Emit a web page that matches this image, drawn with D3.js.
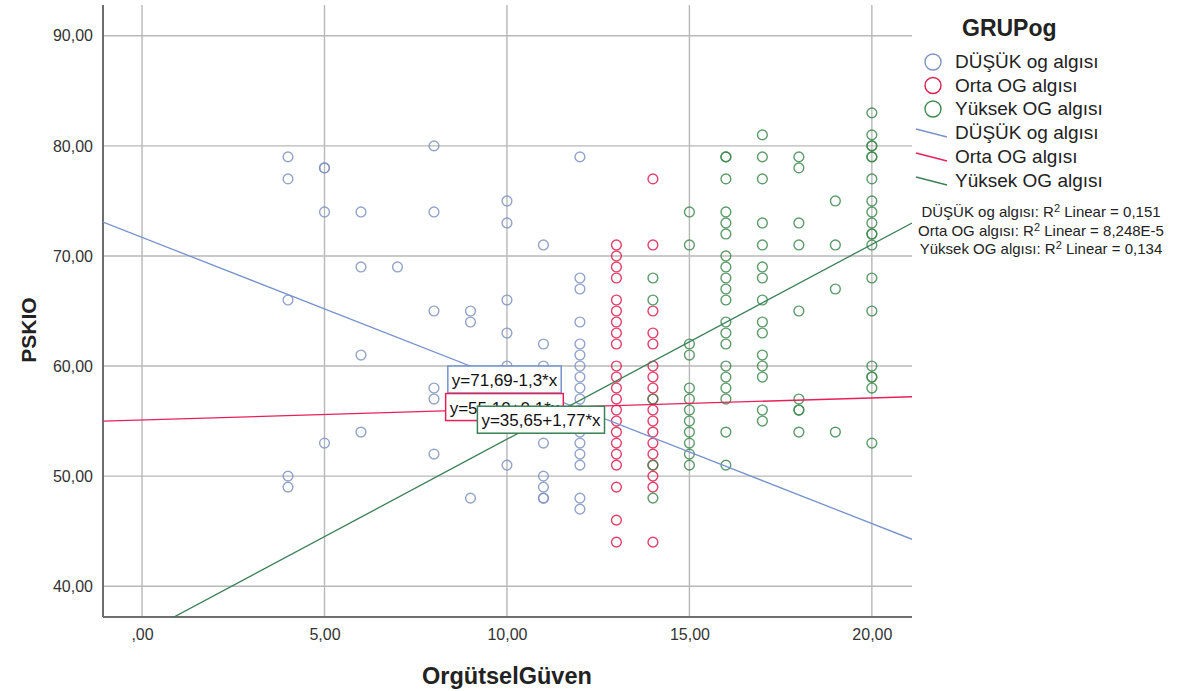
<html>
<head>
<meta charset="utf-8">
<script src="https://d3js.org/d3.v7.min.js"></script>
<style>
  body {margin:0; background:#fff; font-family:"Liberation Sans", Arial, sans-serif;}
</style>
</head>
<body>
<script>
// groups and colours
var groups = ["DÜŞÜK og algısı", "Orta OG algısı", "Yüksek OG algısı"]
var pointCol = ["#7f93c2", "#dc1f4f", "#3f8a4f"]
var lineCol = ["#7592cc", "#e8205a", "#3d7f57"]

// DÜŞÜK og algısı : x columns and the PSKIO values seen in each
var dusukX = [4, 5, 6, 7, 8, 9, 10, 11, 12]
var dusukY = [
  [79, 77, 66, 50, 49],
  [78, 78, 74, 53],
  [74, 69, 61, 54],
  [69],
  [80, 74, 65, 58, 57, 52],
  [65, 64, 48],
  [75, 73, 66, 63, 60, 59, 57, 51],
  [71, 62, 60, 59, 58, 57, 55, 53, 50, 49, 48, 48],
  [79, 68, 67, 64, 62, 61, 60, 59, 58, 57, 56, 55, 54, 53, 52, 51, 48, 47]
]

// Orta OG algısı
var ortaX = [13, 14]
var ortaY = [
  [71, 70, 69, 68, 66, 65, 64, 63, 62, 60, 59, 58, 57, 56, 55, 54, 53, 52, 51, 49, 46, 44],
  [77, 71, 65, 63, 62, 60, 59, 58, 57, 56, 55, 54, 53, 52, 51, 50, 49, 44]
]

// Yüksek OG algısı
var yuksekX = [14, 15, 16, 17, 18, 19, 20]
var yuksekY = [
  [68, 66, 57, 51, 48],
  [74, 71, 62, 61, 58, 57, 56, 55, 54, 53, 52, 51],
  [79, 79, 77, 74, 73, 72, 70, 69, 68, 67, 66, 64, 63, 62, 60, 59, 58, 57, 54, 51],
  [81, 79, 77, 73, 71, 69, 68, 66, 64, 63, 61, 60, 59, 56, 55],
  [79, 78, 73, 71, 65, 57, 56, 56, 54],
  [75, 71, 67, 54],
  [83, 81, 80, 80, 79, 79, 77, 75, 74, 73, 72, 72, 71, 68, 65, 60, 59, 59, 58, 53]
]

// linear fits y = a + b*x
var fitA = [71.69, 55.10, 35.65]
var fitB = [-1.3, 0.1, 1.77]
var fitLabel = ["y=71,69-1,3*x", "y=55,10+0,1*x", "y=35,65+1,77*x"]
// where SPSS put each fit label (data units: left, top)
var fitLabelAt = [[8.38, 60.0], [8.32, 57.5], [9.19, 56.35]]
var r2Label = ["DÜŞÜK og algısı: R", "Orta OG algısı: R", "Yüksek OG algısı: R"]
var r2Value = ["0,151", "8,248E-5", "0,134"]

var xTicks = [0, 5, 10, 15, 20]
var yTicks = [40, 50, 60, 70, 80, 90]

var width = 1178, height = 691
var pLeft = 103, pRight = 912, pTop = 5, pBottom = 617

var svg = d3.select("body").append("svg")
  .attr("width", width)
  .attr("height", height)

var x = d3.scaleLinear().domain([-1.07, 21.1]).range([pLeft, pRight])
var y = d3.scaleLinear().domain([37.2, 92.8]).range([pBottom, pTop])

function fmt(v) {
  var s = d3.format(".2f")(v).replace(".", ",")
  return s == "0,00" ? ",00" : s
}

svg.append("clipPath").attr("id", "plot")
  .append("rect").attr("x", pLeft).attr("y", pTop)
  .attr("width", pRight - pLeft).attr("height", pBottom - pTop)

// grid
var grid = svg.append("g").style("stroke", "#b8b8b8").style("stroke-width", 1.4)
grid.selectAll("line.v").data(xTicks).enter().append("line").attr("class", "v")
  .attr("x1", function(d) { return x(d) }).attr("x2", function(d) { return x(d) })
  .attr("y1", pTop).attr("y2", pBottom)
grid.selectAll("line.h").data(yTicks).enter().append("line").attr("class", "h")
  .attr("y1", function(d) { return y(d) }).attr("y2", function(d) { return y(d) })
  .attr("x1", pLeft).attr("x2", pRight)

// axes
var xAxis = svg.append("g").attr("transform", "translate(0," + pBottom + ")")
  .call(d3.axisBottom(x).tickValues(xTicks).tickFormat(fmt).tickSize(0).tickPadding(12))
var yAxis = svg.append("g").attr("transform", "translate(" + pLeft + ",0)")
  .call(d3.axisLeft(y).tickValues(yTicks).tickFormat(fmt).tickSize(0).tickPadding(10))
;[xAxis, yAxis].forEach(function(a) {
  a.select(".domain").style("stroke", "#6e6e6e").style("stroke-width", 2)
  a.selectAll("text").style("font-size", "16px").style("fill", "#333")
    .style("font-family", "Liberation Sans, Arial, sans-serif")
})
xAxis.select(".domain").attr("d", "M" + pLeft + ",0H" + pRight)
yAxis.select(".domain").attr("d", "M0," + pTop + "V" + pBottom)

// points
function pts(cols, vals) {
  var out = []
  cols.forEach(function(c, i) { vals[i].forEach(function(v) { out.push([c, v]) }) })
  return out
}
var series = [pts(dusukX, dusukY), pts(ortaX, ortaY), pts(yuksekX, yuksekY)]

var plot = svg.append("g").attr("clip-path", "url(#plot)")
series.forEach(function(s, i) {
  plot.append("g").selectAll("circle").data(s).enter().append("circle")
    .attr("cx", function(d) { return x(d[0]) })
    .attr("cy", function(d) { return y(d[1]) })
    .attr("r", 4.9)
    .style("fill", "none")
    .style("stroke", pointCol[i])
    .style("stroke-width", 1.4)
    .style("stroke-opacity", 0.85)
})

// fit lines
var xd = x.domain()
fitA.forEach(function(a, i) {
  plot.append("line")
    .attr("x1", x(xd[0])).attr("y1", y(a + fitB[i] * xd[0]))
    .attr("x2", x(xd[1])).attr("y2", y(a + fitB[i] * xd[1]))
    .style("stroke", lineCol[i]).style("stroke-width", 1.3)
})

// fit labels
fitLabel.forEach(function(t, i) {
  var g = svg.append("g")
    .attr("transform", "translate(" + x(fitLabelAt[i][0]) + "," + y(fitLabelAt[i][1]) + ")")
  var box = g.append("rect").style("fill", "#fff").style("stroke", lineCol[i]).style("stroke-width", 1.5)
  var txt = g.append("text").attr("x", 4).attr("y", 20).text(t)
    .style("font-size", "17px").style("fill", "#111")
  var w = txt.node().getComputedTextLength()
  box.attr("width", w + 8).attr("height", 27)
})

// axis titles
svg.append("text").attr("x", x(10)).attr("y", 684).attr("text-anchor", "middle")
  .style("font-size", "23.5px").style("font-weight", "bold").style("fill", "#222")
  .text("OrgütselGüven")
svg.append("text").attr("transform", "translate(36,330) rotate(-90)").attr("text-anchor", "middle")
  .style("font-size", "21px").style("font-weight", "bold").style("fill", "#222")
  .text("PSKIO")

// legend
var leg = svg.append("g")
leg.append("text").attr("x", 962).attr("y", 36).text("GRUPog")
  .style("font-size", "23px").style("font-weight", "bold").style("fill", "#222")
groups.forEach(function(g, i) {
  var cy = 62 + i * 23.5
  leg.append("circle").attr("cx", 933).attr("cy", cy).attr("r", 8)
    .style("fill", "none").style("stroke", pointCol[i]).style("stroke-width", 1.4)
  leg.append("text").attr("x", 955).attr("y", cy + 6).text(g)
    .style("font-size", "19px").style("fill", "#222")
  var ly = 133 + i * 24
  leg.append("line").attr("x1", 916).attr("y1", ly - 4).attr("x2", 947).attr("y2", ly + 4)
    .style("stroke", lineCol[i]).style("stroke-width", 1.4)
  leg.append("text").attr("x", 955).attr("y", ly + 6).text(g)
    .style("font-size", "19px").style("fill", "#222")
})

// R2 notes
r2Label.forEach(function(t, i) {
  var tx = leg.append("text").attr("x", 1041).attr("y", 217 + i * 18.5).attr("text-anchor", "middle")
    .style("font-size", "15px").style("fill", "#222")
  tx.append("tspan").text(t)
  tx.append("tspan").attr("dy", -5).style("font-size", "11px").text("2")
  tx.append("tspan").attr("dy", 5).text(" Linear = " + r2Value[i])
})
</script>
</body>
</html>
